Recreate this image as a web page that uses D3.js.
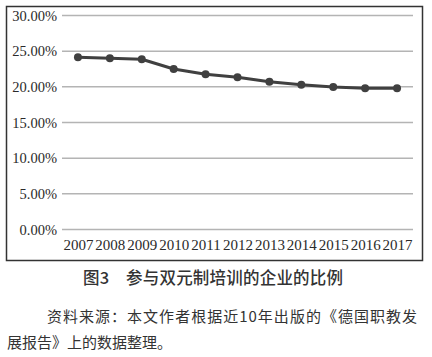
<!DOCTYPE html>
<html><head><meta charset="utf-8">
<script src="https://cdn.jsdelivr.net/npm/d3@7"></script>
<style>html,body{margin:0;padding:0;background:#fff;}svg{display:block;}</style>
</head><body>
<svg id="c" width="432" height="357"></svg>
<script>
const years = ["2007","2008","2009","2010","2011","2012","2013","2014","2015","2016","2017"];
const shares = [0.2415, 0.2400, 0.2387, 0.2250, 0.2177, 0.2135, 0.2070, 0.2030, 0.1998, 0.1980, 0.1980];
const yTicks = [0, 0.05, 0.10, 0.15, 0.20, 0.25, 0.30];
const caption = "图3\u3000参与双元制培训的企业的比例";
const note1 = "资料来源：本文作者根据近10年出版的《德国职教发";
const note2 = "展报告》上的数据整理。";

const svg = d3.select("#c");
const x = d3.scalePoint().domain(years).range([62, 413]).padding(0.5);
const y = d3.scaleLinear().domain([0, 0.30]).range([229.5, 15.5]);

// frame
svg.append("rect").attr("x", 6.5).attr("y", 6.5).attr("width", 416).attr("height", 254)
  .attr("fill", "none").attr("stroke", "#333").attr("stroke-width", 1.5);

// gridlines
svg.append("g").selectAll("line").data(yTicks).join("line")
  .attr("x1", 62).attr("x2", 413)
  .attr("y1", d => y(d)).attr("y2", d => y(d))
  .attr("stroke", "#b4b4b4").attr("stroke-width", 1.5);

// y axis
const ya = svg.append("g").attr("transform", "translate(62,0)")
  .call(d3.axisLeft(y).tickValues(yTicks).tickFormat(d3.format(".2%")).tickSize(0).tickPadding(5));
ya.select(".domain").remove();
ya.selectAll("text").attr("font-family", "'Liberation Serif', 'Times New Roman', serif")
  .attr("font-size", 14.5).attr("fill", "#2a2a2a");

// x axis
const xa = svg.append("g").attr("transform", "translate(0,229.5)")
  .call(d3.axisBottom(x).tickSize(0).tickPadding(10));
xa.select(".domain").remove();
xa.selectAll("text").attr("font-family", "'Liberation Serif', 'Times New Roman', serif")
  .attr("font-size", 15).attr("fill", "#2a2a2a");

// line
const line = d3.line().x((d, i) => x(years[i])).y(d => y(d));
svg.append("path").datum(shares).attr("d", line)
  .attr("fill", "none").attr("stroke", "#404040").attr("stroke-width", 3).attr("stroke-linejoin", "round");
svg.append("g").selectAll("circle").data(shares).join("circle")
  .attr("cx", (d, i) => x(years[i])).attr("cy", d => y(d)).attr("r", 4)
  .attr("fill", "#404040");

// caption
svg.append("text").attr("x", 83).attr("y", 284)
  .attr("font-family", "'Noto Sans CJK SC', sans-serif").attr("font-size", 16.5).attr("font-weight", 500)
  .attr("fill", "#333").attr("textLength", 260).attr("lengthAdjust", "spacing").text(caption);

svg.append("text").attr("x", 47).attr("y", 322)
  .attr("font-family", "'Noto Sans CJK SC', serif").attr("font-size", 15)
  .attr("fill", "#333").attr("textLength", 370).attr("lengthAdjust", "spacing").text(note1);
svg.append("text").attr("x", 7).attr("y", 348)
  .attr("font-family", "'Noto Sans CJK SC', serif").attr("font-size", 15)
  .attr("fill", "#333").text(note2);
</script>
</body></html>
